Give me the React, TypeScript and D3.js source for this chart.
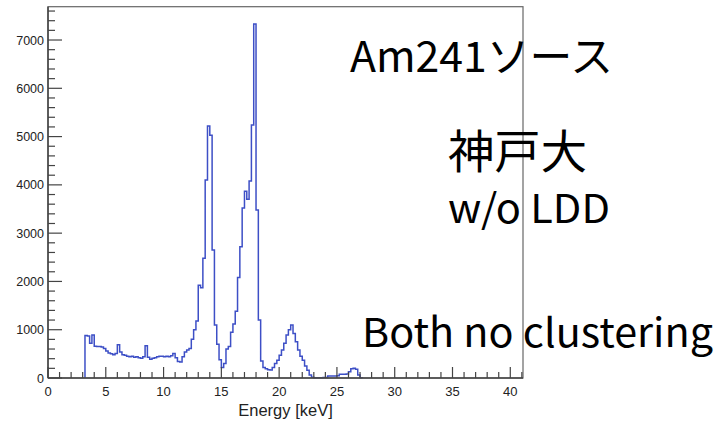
import React from 'react';
import * as d3 from 'd3';

// histogram: 0.2 keV bins starting at 3.2 keV
const binStart = 3.2;
const binWidth = 0.2;
const counts = [
  880, 870, 720, 890, 660, 650, 650, 640, 610, 560,
  520, 500, 480, 510, 690, 540, 480, 470, 450, 440,
  450, 430, 440, 420, 410, 440, 670, 430, 390, 410,
  420, 440, 450, 450, 440, 450, 440, 460, 510, 420,
  340, 330, 440, 540, 580, 610, 800, 1000, 1180, 1920,
  1870, 2480, 4100, 5220, 5030, 2650, 1100, 700, 380, 220,
  300, 600, 650, 950, 1120, 1380, 2080, 2720, 3520, 3870,
  3700, 4080, 5240, 7330, 3480, 1200, 350, 220, 190, 170,
  165, 220, 300, 370, 470, 580, 720, 890, 1000, 1100,
  920, 750, 580, 450, 370, 250, 160, 60, 15, 5,
  5, 5, 5, 10, 10, 40, 40, 40, 40, 45,
  80, 80, 80, 85, 130, 190, 200, 180, 60, 5,
];

const xTickLabels = [0, 5, 10, 15, 20, 25, 30, 35, 40];
const yTickLabels = [0, 1000, 2000, 3000, 4000, 5000, 6000, 7000];

const notes = [
  { text: 'Am241ソース', x: 350, y: 72, size: 42, len: 263 },
  { text: '神戸大', x: 448, y: 168, size: 46, len: 139 },
  { text: 'w/o LDD', x: 448, y: 223, size: 40, len: 162 },
  { text: 'Both no clustering', x: 362, y: 347, size: 40, len: 351 },
];

export default function App() {
  const width = 718;
  const height = 423;
  const left = 48, right = 523, top = 6.7, bottom = 378;

  const x = d3.scaleLinear().domain([0, 41.1]).range([left, right]);
  const y = d3.scaleLinear().domain([0, 7690]).range([bottom, top]);

  const pts: [number, number][] = [[binStart, 0]];
  counts.forEach((c, i) => pts.push([binStart + i * binWidth, c]));
  pts.push([binStart + counts.length * binWidth, 0]);

  const line = d3
    .line<[number, number]>()
    .x((d) => x(d[0]))
    .y((d) => y(d[1]))
    .curve(d3.curveStepAfter);

  const xMinor = d3.range(0, 42, 1);
  const yMinor = d3.range(0, 7690, 200);
  const axisColor = '#444';

  return (
    <svg
      width={width}
      height={height}
      style={{ position: 'absolute', left: 0, top: 0, background: '#fff' }}
    >
      <path d={line(pts) || ''} fill="none" stroke="#3d4fc6" strokeWidth={1.5} />

      {/* frame */}
      <rect
        x={left}
        y={top}
        width={right - left}
        height={bottom - top}
        fill="none"
        stroke="#666"
        strokeWidth={1.2}
      />
      <line x1={left} x2={left} y1={top} y2={bottom} stroke={axisColor} strokeWidth={1.5} />
      <line x1={left} x2={right} y1={bottom} y2={bottom} stroke={axisColor} strokeWidth={1.5} />

      {xMinor.map((v) => (
        <line
          key={'xt' + v}
          x1={x(v)}
          x2={x(v)}
          y1={bottom}
          y2={bottom - (v % 5 === 0 ? 11 : 6)}
          stroke={axisColor}
          strokeWidth={1.2}
        />
      ))}
      {yMinor.map((v) => (
        <line
          key={'yt' + v}
          x1={left}
          x2={left + (v % 1000 === 0 ? 14 : 7)}
          y1={y(v)}
          y2={y(v)}
          stroke={axisColor}
          strokeWidth={1.2}
        />
      ))}

      {xTickLabels.map((v) => (
        <text
          key={'xl' + v}
          x={x(v)}
          y={396}
          textAnchor="middle"
          fontFamily="Liberation Sans, Arial, sans-serif"
          fontSize={13}
          fill="#222"
        >
          {v}
        </text>
      ))}
      {yTickLabels.map((v) => (
        <text
          key={'yl' + v}
          x={44}
          y={y(v) + 4.5}
          textAnchor="end"
          fontFamily="Liberation Sans, Arial, sans-serif"
          fontSize={12.5}
          fill="#222"
        >
          {v}
        </text>
      ))}

      <text
        x={(left + right) / 2}
        y={416}
        textAnchor="middle"
        fontFamily="Liberation Sans, Arial, sans-serif"
        fontSize={16.5}
        fill="#222"
      >
        Energy [keV]
      </text>

      {notes.map((n) => (
        <text
          key={n.text}
          x={n.x}
          y={n.y}
          fontFamily="Noto Sans CJK JP, Noto Sans, sans-serif"
          fontSize={n.size}
          textLength={n.len}
          lengthAdjust="spacingAndGlyphs"
          fill="#000"
        >
          {n.text}
        </text>
      ))}
    </svg>
  );
}
